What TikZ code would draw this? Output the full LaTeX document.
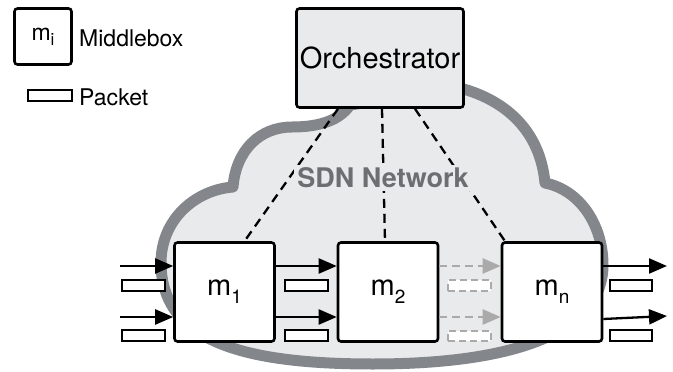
\documentclass[tikz,border=0pt]{standalone}
\usepackage{fontspec}
\setmainfont{TeX Gyre Heros}
\usetikzlibrary{arrows.meta}

\definecolor{cloudfill}{HTML}{E9EAEB}
\definecolor{cloudline}{HTML}{83868A}
\definecolor{sdngray}{HTML}{6D6E71}
\definecolor{ghost}{HTML}{AAAAAA}

% m with a lowered index
\newcommand{\msub}[3]{m\raisebox{-#3}{\fontsize{#2}{#2}\selectfont #1}}

\begin{document}
\begin{tikzpicture}[
    x=1pt, y=-1pt,
    every node/.style={inner sep=0pt},
    legfont/.style={font=\fontsize{23}{23}\selectfont},
    mbox/.style={rectangle, draw, line width=2.6pt, rounded corners=3pt, fill=white,
                 minimum width=100pt, minimum height=99pt, font=\fontsize{29}{29}\selectfont},
    orchbox/.style={mbox, fill=cloudfill, minimum width=167pt},
    pkt/.style={rectangle, draw, line width=2.4pt, fill=white,
                minimum width=42.5pt, minimum height=10.5pt},
    ghostpkt/.style={pkt, draw=ghost, dash pattern=on 7pt off 4pt},
    flow/.style={-{Triangle[length=18pt,width=15pt]}, line width=2.3pt},
    ghostflow/.style={flow, ghost, dash pattern=on 8pt off 5pt},
    ctrl/.style={line width=2.3pt, dash pattern=on 9pt off 6pt}
]
\useasboundingbox (0,0) rectangle (673,372);

% cloud
\draw[cloudline, fill=cloudfill, line width=11pt, line join=round]
  (161,265) .. controls (160,220) and (195,190) .. (233,187)
  .. controls (236,150) and (260,127) .. (292,127)
  .. controls (320,127) and (340,120) .. (350,105)
  -- (460,88)
  .. controls (505,100) and (540,130) .. (545,183)
  .. controls (580,190) and (603,225) .. (603,265)
  .. controls (603,330) and (520,364) .. (373,364)
  .. controls (240,364) and (163,340) .. cycle;

% legend
\node[mbox, minimum width=57pt, minimum height=56pt, font=\fontsize{23}{23}\selectfont] (leg) at (43,36.5) {\msub{i}{17}{5pt}};
\node[legfont, anchor=west] (legm) at (79,38) {Middlebox};
\node[pkt, minimum width=43.5pt] (legp) at (50,95.5) {};
\node[legfont, anchor=west] (legpt) at (79,97) {Packet};

% orchestrator and control links
\node[orchbox] (orch) at (380,58) {Orchestrator};

\node[mbox] (m1) at (224.5,292) {\msub{1}{19}{8pt}};
\node[mbox] (m2) at (388,292) {\msub{2}{19}{8pt}};
\node[mbox] (mn) at (552,292) {\msub{n}{19}{8pt}};

\draw[ctrl] ([xshift=-42pt]orch.south) -- ([xshift=20pt]m1.north);
\draw[ctrl] ([xshift=2pt]orch.south) -- ([xshift=-3pt]m2.north);
\draw[ctrl] ([xshift=35pt]orch.south) -- ([xshift=-47pt]mn.north);

\node[font=\bfseries\fontsize{27}{27}\selectfont, text=sdngray, fill=cloudfill, inner sep=3pt] (sdn) at (383,178) {SDN Network};

% flows
\coordinate (in1) at (120,266);
\coordinate (in2) at (120,317);
\coordinate (out1) at (667,266);
\coordinate (out2) at (667,316);

\draw[flow] (in1) -- (m1.west |- in1);
\draw[flow] (in2) -- (m1.west |- in2);
\draw[flow] ([yshift=26pt]m1.east) -- ([yshift=26pt]m2.west);
\draw[flow] ([yshift=-25pt]m1.east) -- ([yshift=-25pt]m2.west);
\draw[ghostflow] ([yshift=26pt]m2.east) -- ([yshift=26pt]mn.west);
\draw[ghostflow] ([yshift=-25pt]m2.east) -- ([yshift=-25pt]mn.west);
\draw[flow] (mn.east |- out1) -- (out1);
\draw[flow] ([yshift=-27pt]mn.east) -- (out2);

% packets
\node[pkt] (pin1) at (143.5,285.5) {};
\node[pkt] (pin2) at (143.5,335.5) {};
\node[pkt] (p12a) at (306.5,285.5) {};
\node[pkt] (p12b) at (306.5,335.5) {};
\node[ghostpkt] (p2na) at (469.5,285.5) {};
\node[ghostpkt] (p2nb) at (469.5,336) {};
\node[pkt] (pouta) at (631,285.5) {};
\node[pkt] (poutb) at (631,335.5) {};

\end{tikzpicture}
\end{document}
